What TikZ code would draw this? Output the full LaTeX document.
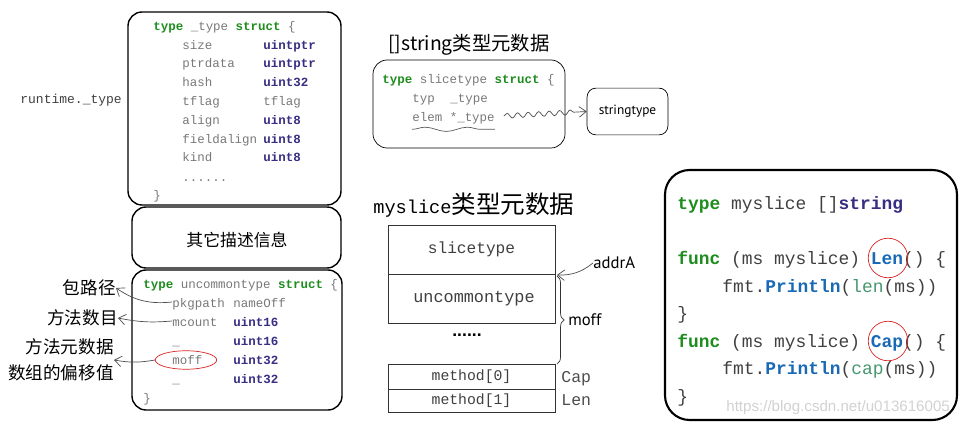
\documentclass[tikz,border=0pt]{standalone}
\usepackage{fontspec}
\setmainfont{Liberation Sans}
\setsansfont{Liberation Sans}
\setmonofont{Liberation Mono}
\newfontfamily\cjk{Noto Sans CJK SC}
\newfontfamily\hand{PT Sans}
\usetikzlibrary{arrows.meta,shapes.geometric,decorations.pathmorphing,decorations.pathreplacing}

\definecolor{kwgreen}{RGB}{30,140,30}
\definecolor{typurple}{RGB}{55,45,130}
\definecolor{fnblue}{RGB}{25,105,180}
\definecolor{lengreen}{RGB}{70,150,110}
\definecolor{codegray}{RGB}{120,120,120}
\definecolor{bigred}{RGB}{215,35,35}

\newcommand\kw[1]{\textcolor{kwgreen}{\bfseries #1}}
\newcommand\ty[1]{\textcolor{typurple}{\bfseries #1}}
\newcommand\fn[1]{\textcolor{fnblue}{\bfseries #1}}

\tikzset{
  code/.style={font=\ttfamily\fontsize{7.1}{8}\selectfont, text=codegray, anchor=west, inner sep=0pt, text height=1.5ex, text depth=.35ex},
  bigcode/.style={code, font=\ttfamily\fontsize{10.2}{12}\selectfont, text=black!75},
  panel/.style={draw, thick, rounded corners=8pt},
  cell/.style={draw, black!80},
  note/.style={font=\cjk\fontsize{10}{12}\selectfont, inner sep=0pt, anchor=east},
  pointer/.style={-{Straight Barb[length=4pt,width=6pt]}, black!70},
  ring/.style={draw=bigred, inner sep=0pt}
}

\begin{document}
\begin{tikzpicture}[x=0.02cm, y=-0.02cm]
\useasboundingbox (0,0) rectangle (969,428);

\draw[panel] (128,12) rectangle (341,205);
\draw[panel] (132,207) rectangle (341,268);
\draw[panel] (132,270) rectangle (342,410);

\node[code, text=black!75, font=\ttfamily\fontsize{7.4}{9}\selectfont] (rt) at (20,98) {runtime.\_type};

\node[code] (t0) at (153,25) {\kw{type} \_type \kw{struct} \{};
\foreach \n/\t [count=\i] in {size/\ty{uintptr}, ptrdata/\ty{uintptr}, hash/\ty{uint32}, tflag/tflag, align/\ty{uint8}, fieldalign/\ty{uint8}, kind/\ty{uint8}}{
  \node[code] (f\i) at (182,25+18.8*\i) {\n};
  \node[code] (g\i) at (263,25+18.8*\i) {\t};
}
\node[code] (f8) at (182,176) {......};
\node[code] (t9) at (153,194) {\}};

\node[font=\cjk\fontsize{9.6}{11}\selectfont] (other) at (237,240) {其它描述信息};

\node[code] (u0) at (143,283) {\kw{type} uncommontype \kw{struct} \{};
\foreach \n/\t [count=\i] in {pkgpath/nameOff, mcount/\ty{uint16}, \_/\ty{uint16}, moff/\ty{uint32}, \_/\ty{uint32}}{
  \node[code] (n\i) at (172,283+19*\i) {\n};
  \node[code] (v\i) at (233,283+19*\i) {\t};
}
\node[code] (u6) at (143,397) {\}};
\node[ring, ellipse, minimum width=35pt, minimum height=10.5pt] (moffring) at (186,360) {};

\node[note] (lb1) at (116,288) {包路径};
\node[note] (lb2) at (118,318) {方法数目};
\node[note, align=right, font=\cjk\fontsize{10}{14.7}\selectfont] (lb3) at (114,360) {方法元数据\\数组的偏移值};

\draw[pointer] (n1.west) to[bend left=20] (lb1.east);
\draw[pointer] (n2.west) to[bend left=8] (lb2.east);
\draw[pointer] (moffring.west) to[bend left=10] (lb3.east);

\node[font=\cjk\fontsize{11}{13}\selectfont, anchor=west, inner sep=0pt] (title1) at (388,45) {[]string类型元数据};
\draw[panel, thin] (373,60) rectangle (565,148);
\node[code] (s0) at (382,78) {\kw{type} slicetype \kw{struct} \{};
\node[code] (s1) at (412,97) {typ};
\node[code] (s1t) at (450,97) {\_type};
\node[code] (s2) at (412,116) {elem *\_type};
\draw[black!65, decorate, decoration={snake, amplitude=1.2pt, segment length=24pt}] ([yshift=-2.5pt]s2.south west) -- ([yshift=-2.5pt]s2.south east);

\node[draw, text=black, rounded corners=5pt, minimum width=46pt, minimum height=26.6pt, font=\hand\fontsize{7.6}{9}\selectfont] (st) at (627.5,111.5) {stringtype};
\draw[pointer, decorate, decoration={snake, amplitude=1.4pt, segment length=6pt, post length=5pt}] ([xshift=5pt]s2.east) -- (st.west);

\node[anchor=west, inner sep=0pt] (title2) at (373,205) {\ttfamily\fontsize{10.6}{12}\selectfont myslice\cjk\fontsize{14}{16}\selectfont 类型元数据};

\draw[cell] (388,225) rectangle (555,274);
\draw[cell] (388,274) rectangle (555,323);
\draw[cell] (388,364) rectangle (555,389);
\draw[cell] (388,389) rectangle (555,412);
\node[font=\ttfamily\fontsize{9.2}{11}\selectfont, text=black!75] (c1) at (471.5,249.5) {slicetype};
\node[font=\ttfamily\fontsize{9.6}{11}\selectfont, text=black!75] (c2) at (474,299) {uncommontype};
\node[font=\bfseries\fontsize{10}{11}\selectfont] (c3) at (467,335) {......};
\node[font=\ttfamily\fontsize{8.4}{10}\selectfont, text=black!75] (c4) at (471.5,377) {method[0]};
\node[font=\ttfamily\fontsize{8.4}{10}\selectfont, text=black!75] (c5) at (471.5,400.5) {method[1]};

\node[code, font=\ttfamily\fontsize{9.4}{11}\selectfont, text=black!70] (cap) at (561,377) {Cap};
\node[code, font=\ttfamily\fontsize{9.4}{11}\selectfont, text=black!70] (len) at (561,400.5) {Len};

\draw[black!80, decorate, decoration={brace, amplitude=4pt}] (557,276) -- (557,364);
\node[anchor=west, inner sep=0pt, font=\hand\fontsize{9.5}{11}\selectfont] (moff) at (568,320) {moff};
\node[anchor=west, inner sep=0pt, font=\hand\fontsize{9.5}{11}\selectfont] (addr) at (593,263) {addrA};
\coordinate (addrpt) at (557,275);
\draw[pointer] (addr.west) to[bend left=20] (addrpt);

\draw[panel, line width=1.2pt, rounded corners=14pt] (665,170) rectangle (957,420);
\node[bigcode] (m0) at (677,204) {\kw{type} myslice []\ty{string}};
\node[bigcode] (m1) at (677,259) {\kw{func} (ms myslice) \fn{Len}() \{};
\node[bigcode] (m2) at (722,287) {fmt.\fn{Println}(\textcolor{lengreen}{len}(ms))};
\node[bigcode] (m3) at (677,314) {\}};
\node[bigcode] (m4) at (677,342) {\kw{func} (ms myslice) \fn{Cap}() \{};
\node[bigcode] (m5) at (722,369) {fmt.\fn{Println}(\textcolor{lengreen}{cap}(ms))};
\node[bigcode] (m6) at (677,397) {\}};
\node[ring, circle, minimum size=22.5pt] (lenring) at (888,258) {};
\node[ring, circle, minimum size=22.5pt] (capring) at (888,341) {};

\node[font=\sffamily\fontsize{8.6}{10}\selectfont, text=black!18, anchor=west, inner sep=0pt] (wm) at (726,408) {https://blog.csdn.net/u013616005};
\end{tikzpicture}
\end{document}
